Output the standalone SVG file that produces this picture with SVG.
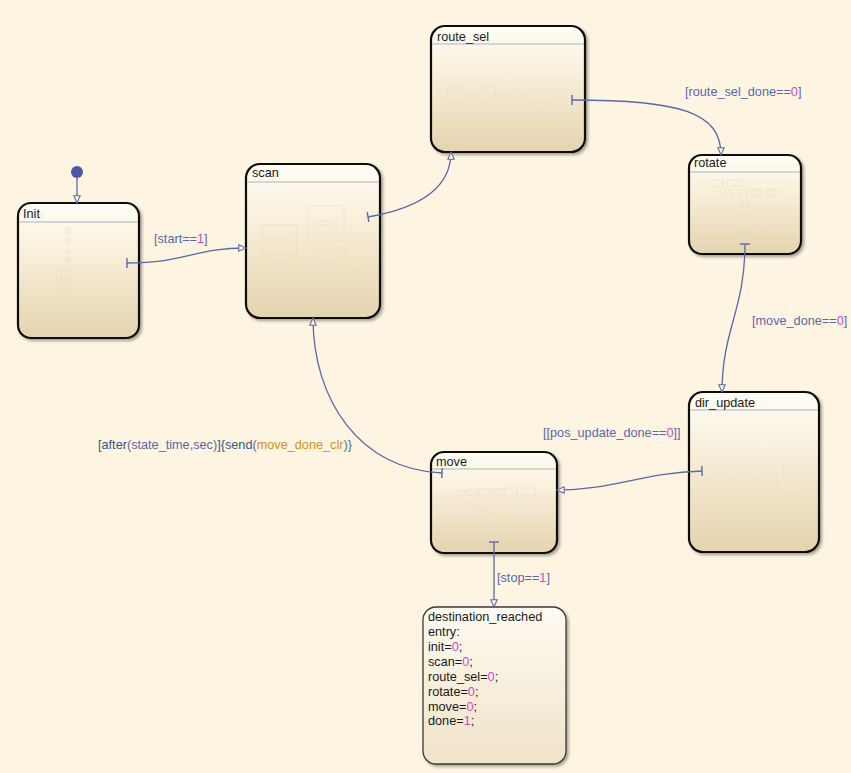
<svg xmlns="http://www.w3.org/2000/svg" width="851" height="773" viewBox="0 0 851 773">
<defs>
<linearGradient id="stg" x1="0" y1="0" x2="0" y2="1">
<stop offset="0" stop-color="#fffdf6"/>
<stop offset="0.35" stop-color="#f9f0dc"/>
<stop offset="1" stop-color="#e4d3ae"/>
</linearGradient>
<linearGradient id="stg2" x1="0" y1="0" x2="0" y2="1">
<stop offset="0" stop-color="#fffbf2"/>
<stop offset="1" stop-color="#efe3c8"/>
</linearGradient>
<filter id="sh" x="-10%" y="-10%" width="125%" height="125%">
<feDropShadow dx="2" dy="2" stdDeviation="1.8" flood-color="#000" flood-opacity="0.35"/>
</filter>
<marker id="arr" viewBox="0 0 10 10" refX="9.5" refY="5" markerUnits="userSpaceOnUse" markerWidth="9" markerHeight="8" orient="auto">
<path d="M0.5,1 L9.5,5 L0.5,9 Z" fill="#fdf5e1" stroke="#5b67a9" stroke-width="1.3"/>
</marker>
<marker id="tick" viewBox="-2 -6 4 12" refX="0" refY="0" markerUnits="userSpaceOnUse" markerWidth="4" markerHeight="12" orient="auto">
<path d="M0,-5 L0,5" stroke="#5b67a9" stroke-width="1.4"/>
</marker>
</defs>
<style>
.st{fill:url(#stg);stroke:#111;stroke-width:2.2;filter:url(#sh)}
.sep{stroke:#b4b0b8;stroke-width:1}
.tt{font-family:"Liberation Sans",Arial,sans-serif;font-size:12.7px;fill:#1a1a1a}
.lb{font-family:"Liberation Sans",Arial,sans-serif;font-size:12.7px;fill:#5b67a9}
.num{fill:#d843d0}
.dk{fill:#3b5584}
.or{fill:#d68f22}
.cn{fill:none;stroke:#5b67a9;stroke-width:1.3;marker-start:url(#tick);marker-end:url(#arr)}
.fa{fill:none;stroke:#e6dcc4;stroke-width:0.7;opacity:0.8}
</style>
<rect width="851" height="773" fill="#fdf5e1"/>

<g id="Init">
<rect class="st" x="18" y="203" width="121" height="135" rx="13"/>
<line class="sep" x1="19" y1="222" x2="138" y2="222"/>
<text class="tt" x="23" y="218">Init</text>
<g class="fa">
<rect x="66" y="228" width="4" height="5"/><rect x="67" y="238" width="3" height="4"/><rect x="67" y="250" width="3" height="3"/><rect x="67" y="258" width="3" height="3"/>
<rect x="56" y="268" width="5" height="12"/><rect x="66" y="268" width="5" height="12"/><rect x="56" y="284" width="5" height="11"/><rect x="66" y="284" width="5" height="11"/>
</g>
</g>

<g id="scan">
<rect class="st" x="246" y="164" width="134" height="154" rx="14"/>
<line class="sep" x1="247" y1="182" x2="379" y2="182"/>
<text class="tt" x="252" y="177">scan</text>
<g class="fa">
<rect x="262" y="225" width="35" height="29"/><rect x="308" y="206" width="36" height="35"/><rect x="315" y="250" width="30" height="36"/>
<rect x="278" y="260" width="8" height="12"/><rect x="350" y="270" width="9" height="10"/>
<rect x="268" y="237" width="14" height="3"/><rect x="317" y="221" width="14" height="4"/><rect x="321" y="262" width="14" height="4"/>
</g>
</g>

<g id="route_sel">
<rect class="st" x="431" y="26" width="154" height="126" rx="14"/>
<line class="sep" x1="432" y1="44" x2="584" y2="44"/>
<text class="tt" x="437" y="41">route_sel</text>
<g class="fa">
<rect x="447" y="87" width="19" height="15" rx="3"/><rect x="480" y="87" width="15" height="15" rx="3"/><rect x="510" y="91" width="16" height="9" rx="2"/><rect x="530" y="101" width="19" height="9" rx="2"/>
<path d="M466,95 L480,95 M495,95 L510,95 M549,105 L568,105"/>
</g>
</g>

<g id="rotate">
<rect class="st" x="689" y="155" width="112" height="99" rx="13"/>
<line class="sep" x1="690" y1="172" x2="800" y2="172"/>
<text class="tt" x="694" y="167">rotate</text>
<g class="fa">
<rect x="713" y="180" width="10" height="7"/><rect x="727" y="180" width="8" height="6"/><rect x="738" y="180" width="6" height="6"/>
<rect x="725" y="190" width="7" height="6"/><rect x="739" y="190" width="8" height="6"/><rect x="752" y="190" width="9" height="6"/><rect x="766" y="190" width="10" height="6"/>
<rect x="742" y="202" width="6" height="5"/><rect x="742" y="214" width="7" height="5"/><rect x="742" y="231" width="5" height="3"/>
</g>
</g>

<g id="dir_update">
<rect class="st" x="689" y="392" width="130" height="160" rx="14"/>
<line class="sep" x1="690" y1="410" x2="818" y2="410"/>
<text class="tt" x="695" y="407">dir_update</text>
<g class="fa">
<rect x="709" y="475" width="21" height="10" rx="2"/><rect x="735" y="475" width="17" height="10" rx="2"/><rect x="760" y="475" width="17" height="10" rx="2"/><rect x="783" y="465" width="17" height="10" rx="2"/>
<path d="M778,480 C780,500 805,500 803,478"/>
</g>
</g>

<g id="move">
<rect class="st" x="431" y="452" width="126" height="101" rx="13"/>
<line class="sep" x1="432" y1="469" x2="556" y2="469"/>
<text class="tt" x="436" y="466">move</text>
<g class="fa">
<rect x="456" y="490" width="9" height="5"/><rect x="467" y="490" width="10" height="5"/><rect x="478" y="489" width="12" height="6"/><rect x="493" y="489" width="10" height="6"/><rect x="505" y="488" width="12" height="8"/><rect x="522" y="488" width="13" height="8"/>
<path d="M460,495 C462,510 495,505 497,525"/>
</g>
</g>

<g id="destination_reached">
<rect x="423" y="607" width="143" height="157" rx="13" fill="url(#stg2)" stroke="#3a3a3a" stroke-width="1.3" filter="url(#sh)"/>
<text class="tt" x="428" y="621">destination_reached</text>
<text class="tt" x="428" y="636">entry:</text>
<text class="tt" x="428" y="651">init=<tspan class="num">0</tspan>;</text>
<text class="tt" x="428" y="666">scan=<tspan class="num">0</tspan>;</text>
<text class="tt" x="428" y="681">route_sel=<tspan class="num">0</tspan>;</text>
<text class="tt" x="428" y="696">rotate=<tspan class="num">0</tspan>;</text>
<text class="tt" x="428" y="711">move=<tspan class="num">0</tspan>;</text>
<text class="tt" x="428" y="725">done=<tspan class="num">1</tspan>;</text>
</g>

<g id="connectors">
<circle cx="77" cy="172" r="6" fill="#4a58a6"/>
<path d="M77,178 L77,203" fill="none" stroke="#5b67a9" stroke-width="1.3" marker-end="url(#arr)"/>
<path class="cn" d="M127,263 C185,263 195,248 246,248"/>
<path class="cn" d="M368,217 C420,208 451,188 451,152"/>
<path class="cn" d="M572,100 C680,100 721,112 721,155"/>
<path class="cn" d="M745,244 C745,310 722,330 722,392"/>
<path class="cn" d="M702,471 C640,473 615,490 557,490"/>
<path class="cn" d="M442,473 C360,470 313,400 313,318"/>
<path class="cn" d="M494,542 L494,607"/>
</g>

<g id="labels">
<text class="lb" x="154" y="243">[start==<tspan class="num">1</tspan>]</text>
<text class="lb" x="685" y="96">[route_sel_done==<tspan class="num">0</tspan>]</text>
<text class="lb" x="752" y="325">[move_done==<tspan class="num">0</tspan>]</text>
<text class="lb" x="543" y="437">[[pos_update_done==<tspan class="num">0</tspan>]]</text>
<text class="lb" x="98" y="449"><tspan class="dk">[after</tspan>(state_time,sec)<tspan class="dk">]{send</tspan>(<tspan class="or">move_done_clr</tspan>)}</text>
<text class="lb" x="497" y="582">[stop==<tspan class="num">1</tspan>]</text>
</g>
</svg>
